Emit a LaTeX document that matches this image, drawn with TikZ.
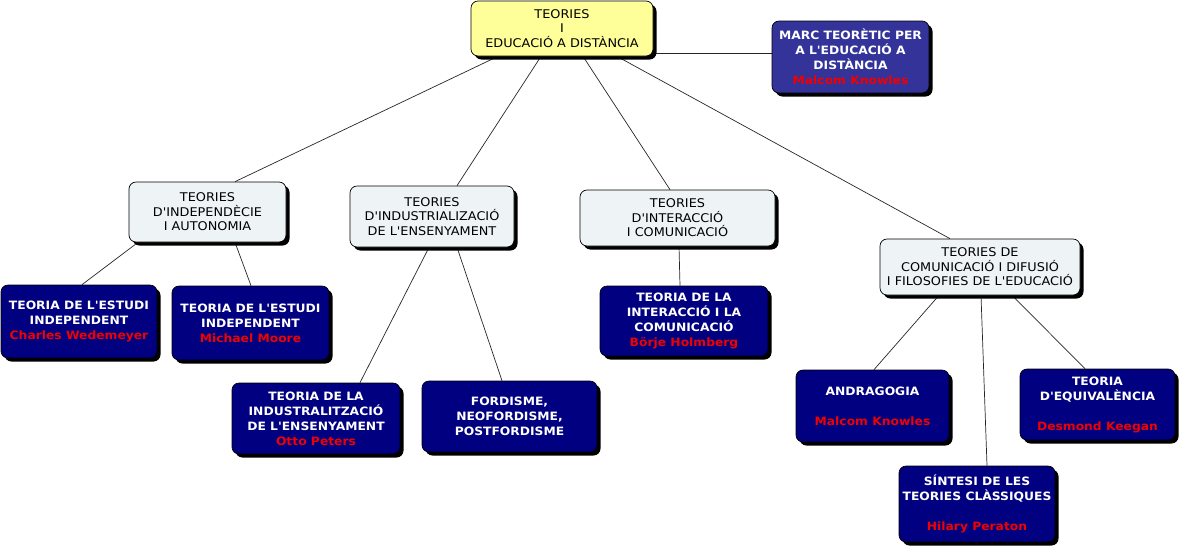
\documentclass[tikz,border=0pt]{standalone}
\usepackage{fontspec}
\setmainfont{DejaVu Sans}
\newfontfamily\regf[FakeStretch=1.07]{DejaVu Sans}
\newfontfamily\boldf[FakeStretch=1.07]{DejaVu Sans Bold}
\usetikzlibrary{shadows,backgrounds}
\definecolor{ylw}{HTML}{FFFF99}
\definecolor{lite}{HTML}{EEF4F6}
\definecolor{navy}{HTML}{000080}
\definecolor{marcblue}{HTML}{333399}
\definecolor{nm}{HTML}{F00000}
\tikzset{
  base/.style={draw=black, line width=0.7pt, rounded corners=7pt, align=center, inner sep=2pt,
    drop shadow={shadow xshift=3.5pt, shadow yshift=-3.5pt, fill=black, opacity=1}},
  topbox/.style={base, fill=ylw, font=\regf\fontsize{12}{14.5}\selectfont},
  midbox/.style={base, fill=lite, font=\regf\fontsize{12}{14.5}\selectfont},
  darkbox/.style={base, fill=navy, text=white, font=\boldf\fontsize{11.5}{15}\selectfont},
  marcbox/.style={darkbox, fill=marcblue},
  conn/.style={draw=black!85, line width=0.7pt}
}
\newcommand{\nmx}[1]{\textcolor{nm}{#1}}
\begin{document}
\begin{tikzpicture}[x=1pt,y=-1pt]
\useasboundingbox (0,0) rectangle (1180,547);
\node[topbox, minimum width=182pt, minimum height=55pt] (top) at (562,28.5) {TEORIES\\I\\EDUCACIÓ A DISTÀNCIA};
\node[marcbox, minimum width=157pt, minimum height=72pt] (marc) at (850.5,57) {MARC TEORÈTIC PER\\A L'EDUCACIÓ A\\DISTÀNCIA\\\nmx{Malcom Knowles}};
\node[midbox, minimum width=157pt, minimum height=60pt] (indep) at (207.5,212) {TEORIES\\D'INDEPENDÈCIE\\I AUTONOMIA};
\node[midbox, minimum width=164pt, minimum height=61pt] (indus) at (432,216.5) {TEORIES\\D'INDUSTRIALIZACIÓ\\DE L'ENSENYAMENT};
\node[midbox, minimum width=195pt, minimum height=56pt] (inter) at (677.5,218) {TEORIES\\D'INTERACCIÓ\\I COMUNICACIÓ};
\node[midbox, minimum width=200pt, minimum height=56pt] (comun) at (980,267) {TEORIES DE\\COMUNICACIÓ I DIFUSIÓ\\I FILOSOFIES DE L'EDUCACIÓ};
\node[darkbox, minimum width=156pt, minimum height=73pt] (cw) at (79,321.5) {TEORIA DE L'ESTUDI\\INDEPENDENT\\\nmx{Charles Wedemeyer}};
\node[darkbox, minimum width=157pt, minimum height=74pt] (mm) at (250.5,323) {TEORIA DE L'ESTUDI\\INDEPENDENT\\\nmx{Michael Moore}};
\node[darkbox, minimum width=168pt, minimum height=71pt] (op) at (316,418.5) {TEORIA DE LA\\INDUSTRALITZACIÓ\\DE L'ENSENYAMENT\\\nmx{Otto Peters}};
\node[darkbox, minimum width=175pt, minimum height=71pt] (ford) at (509.5,416.5) {FORDISME,\\NEOFORDISME,\\POSTFORDISME};
\node[darkbox, minimum width=168pt, minimum height=70pt] (borje) at (684,321) {TEORIA DE LA\\INTERACCIÓ I LA\\COMUNICACIÓ\\\nmx{Börje Holmberg}};
\node[darkbox, minimum width=153pt, minimum height=72pt] (andr) at (872.5,406) {ANDRAGOGIA\\[15pt]\nmx{Malcom Knowles}};
\node[darkbox, minimum width=156pt, minimum height=76pt] (sint) at (977,504) {SÍNTESI DE LES\\TEORIES CLÀSSIQUES\\[15pt]\nmx{Hilary Peraton}};
\node[darkbox, minimum width=155pt, minimum height=71pt] (equiv) at (1097.5,404.5) {TEORIA\\D'EQUIVALÈNCIA\\[15pt]\nmx{Desmond Keegan}};
\begin{pgfonlayer}{background}
\draw[conn] ([yshift=-24.5pt]top.east) -- ([yshift=4pt]marc.west);
\draw[conn] ([xshift=-64pt]top.south) -- ([xshift=27.5pt]indep.north);
\draw[conn] ([xshift=-21pt]top.south) -- ([xshift=25pt]indus.north);
\draw[conn] ([xshift=21pt]top.south) -- ([xshift=-7.5pt]inter.north);
\draw[conn] ([xshift=55pt]top.south) -- ([xshift=-30pt]comun.north);
\draw[conn] ([xshift=-69.5pt]indep.south) -- ([xshift=3pt]cw.north);
\draw[conn] ([xshift=27.5pt]indep.south) -- ([xshift=0.5pt]mm.north);
\draw[conn] ([xshift=-3pt]indus.south) -- ([xshift=44pt]op.north);
\draw[conn] ([xshift=25pt]indus.south) -- ([xshift=-7.5pt]ford.north);
\draw[conn] ([xshift=1.5pt]inter.south) -- ([xshift=-4pt]borje.north);
\draw[conn] ([xshift=-41pt]comun.south) -- ([xshift=1.5pt]andr.north);
\draw[conn] ([xshift=1pt]comun.south) -- ([xshift=10pt]sint.north);
\draw[conn] ([xshift=32pt]comun.south) -- ([xshift=-12.5pt]equiv.north);
\end{pgfonlayer}
\end{tikzpicture}
\end{document}
